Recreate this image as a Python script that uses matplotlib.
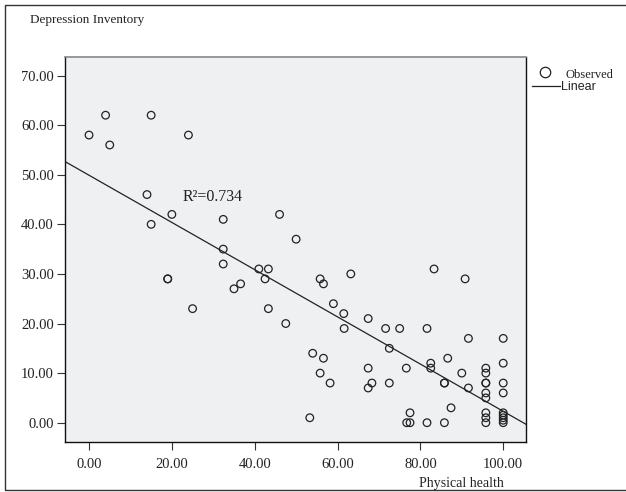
import matplotlib
matplotlib.use("Agg")
import matplotlib.pyplot as plt
from matplotlib.lines import Line2D

# Physical health (x) vs Depression Inventory (y)
physical = [0, 4, 5, 15, 24, 14, 20, 15, 19, 19, 25,
            32.4, 32.4, 32.4, 46, 50, 41, 43.3, 42.5, 36.6, 35, 43.3, 47.5,
            55.8, 56.6, 59, 61.5, 63.2, 61.6, 67.4, 71.6, 75, 81.6, 83.3, 90.8,
            91.6, 100, 72.5, 54, 56.6, 55.8, 58.2, 67.4, 68.3, 67.4, 72.5, 76.6,
            82.5, 82.5, 86.6, 90, 85.8, 85.8, 91.6,
            95.8, 95.8, 95.8, 95.8, 95.8, 95.8, 100, 100, 100,
            53.3, 77.5, 76.7, 77.5, 81.6, 85.8, 87.4,
            95.8, 95.8, 95.8, 100, 100, 100, 100, 100]
depression = [58, 62, 56, 62, 58, 46, 42, 40, 29, 29, 23,
              41, 35, 32, 42, 37, 31, 31, 29, 28, 27, 23, 20,
              29, 28, 24, 22, 30, 19, 21, 19, 19, 19, 31, 29,
              17, 17, 15, 14, 13, 10, 8, 11, 8, 7, 8, 11,
              12, 11, 13, 10, 8, 8, 7,
              11, 10, 8, 8, 6, 5, 12, 8, 6,
              1, 2, 0, 0, 0, 0, 3,
              2, 1, 0, 2, 1.5, 1, 0.5, 0]

# linear fit shown in the chart
fit_intercept = 49.9
fit_slope = -0.476
r_squared = 0.734

x_ticks = [0, 20, 40, 60, 80, 100]
y_ticks = [0, 10, 20, 30, 40, 50, 60, 70]

W, H = 626, 492
serif = "Liberation Serif"
sans = "Liberation Sans"

fig = plt.figure(figsize=(W / 100, H / 100), dpi=100)
ax = fig.add_axes([65 / W, 1 - 441.7 / H, (526 - 65) / W, (441.7 - 56.7) / H])
ax.set_facecolor("#eff0f2")

ax.scatter(physical, depression, s=30, facecolors="none", edgecolors="#222222",
           linewidths=0.9, zorder=3)

xlim = (-5.8, 105.5)
ax.plot(xlim, [fit_intercept + fit_slope * v for v in xlim], color="#222222",
        lw=0.9, zorder=2)
ax.set_xlim(xlim)
ax.set_ylim(-3.83, 73.8)

ax.text(22.7, 45.5, "R\u00b2=%.3f" % r_squared, fontsize=11.5, family=serif,
        va="center", ha="left", color="#222222")

ax.set_xticks(x_ticks)
ax.set_xticklabels(["%.2f" % v for v in x_ticks])
ax.set_yticks(y_ticks)
ax.set_yticklabels(["%.2f" % v for v in y_ticks])
ax.tick_params(direction="out", length=6, width=0.8, color="#333333",
               labelsize=10.5, pad=2)
ax.tick_params(axis="x", pad=6)
for lab in ax.get_xticklabels() + ax.get_yticklabels():
    lab.set_family(serif)
    lab.set_color("#222222")

for side in ["left", "bottom", "right"]:
    ax.spines[side].set_color("#111111")
    ax.spines[side].set_linewidth(1.0)
ax.spines["top"].set_color("#888888")
ax.spines["top"].set_linewidth(1.2)

fig.text(30 / W, 1 - 20 / H, "Depression Inventory", fontsize=9.5, family=serif,
         va="center", ha="left", color="#222222")
fig.text(461 / W, 1 - 484 / H, "Physical health", fontsize=10, family=serif,
         va="center", ha="center", color="#222222")

# legend
fig.add_artist(Line2D([545 / W], [1 - 72 / H], marker="o", markersize=7.5,
                      markerfacecolor="none", markeredgecolor="#222222",
                      markeredgewidth=0.9, linestyle="none"))
fig.text(565 / W, 1 - 74.5 / H, "Observed", fontsize=9, family=serif,
         va="center", ha="left", color="#222222")
fig.add_artist(Line2D([532 / W, 560 / W], [1 - 86 / H, 1 - 86 / H],
                      color="#222222", lw=0.9))
fig.text(561 / W, 1 - 87.5 / H, "Linear", fontsize=9, family=sans,
         va="center", ha="left", color="#222222")

# outer frame (left, top, bottom)
fig.add_artist(Line2D([1, 5 / W, 5 / W, 1], [1 - 5 / H, 1 - 5 / H, 1 - 490 / H, 1 - 490 / H],
                      color="#333333", lw=1.0))

fig.savefig("out.png", dpi=100)
